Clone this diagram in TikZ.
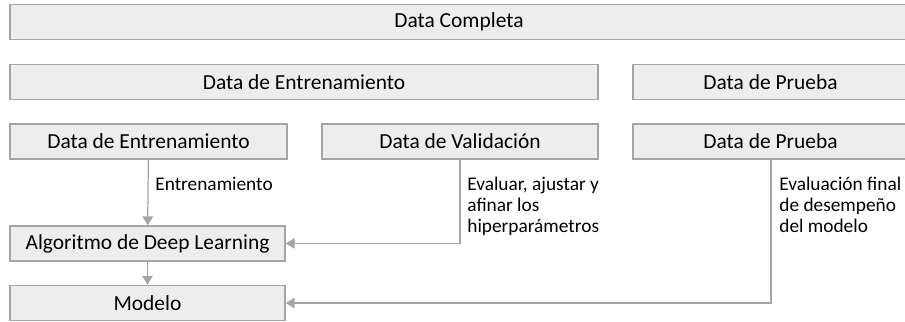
\documentclass[tikz,border=0pt]{standalone}
\usepackage{fontspec}
\setmainfont{Carlito}
\usetikzlibrary{arrows.meta}
\definecolor{boxfill}{HTML}{EDEDED}
\definecolor{boxline}{HTML}{A5A5A5}
\tikzset{
  databox/.style={draw=boxline, fill=boxfill, line width=0.9pt, inner sep=0pt,
    minimum height=35*0.02cm, font=\fontsize{12.2}{14}\selectfont},
  flow/.style={draw=boxline, line width=0.7pt, -{Triangle[length=5pt,width=6pt]}},
  note/.style={anchor=north west, align=left, inner sep=0pt, font=\fontsize{11}{12}\selectfont}
}
\begin{document}
\begin{tikzpicture}[x=0.02cm, y=-0.02cm]
  \useasboundingbox (0,0) rectangle (905,321);
  \node[databox, minimum width=898*0.02cm] (full) at (459,22)    {Data Completa};
  \node[databox, minimum width=588*0.02cm] (train)  at (304,82)    {Data de Entrenamiento};
  \node[databox, minimum width=275*0.02cm] (test)   at (770.5,82)  {Data de Prueba};
  \node[databox, minimum width=277*0.02cm] (trn)    at (148.5,141.5) {Data de Entrenamiento};
  \node[databox, minimum width=276*0.02cm] (val)    at (460,141.5) {Data de Validación};
  \node[databox, minimum width=275*0.02cm] (tst)    at (770.5,141.5) {Data de Prueba};
  \node[databox, minimum width=275*0.02cm] (algo)   at (147.5,243.5) {Algoritmo de Deep Learning};
  \node[databox, minimum width=275*0.02cm] (model)  at (147.5,303)   {Modelo};
  \node[note] (ntrn) at (155,177) {Entrenamiento};
  \node[note] (nval) at (467,177) {Evaluar, ajustar y\\afinar los\\hiperparámetros};
  \node[note] (ntst) at (779,177) {Evaluación final\\de desempeño\\del modelo};
  \draw[flow] (trn) -- (algo);
  \draw[flow] (algo) -- (model);
  \draw[flow] (val.south) |- (algo.east);
  \draw[flow] (tst.south -| 771,0) |- (model.east);
\end{tikzpicture}
\end{document}
